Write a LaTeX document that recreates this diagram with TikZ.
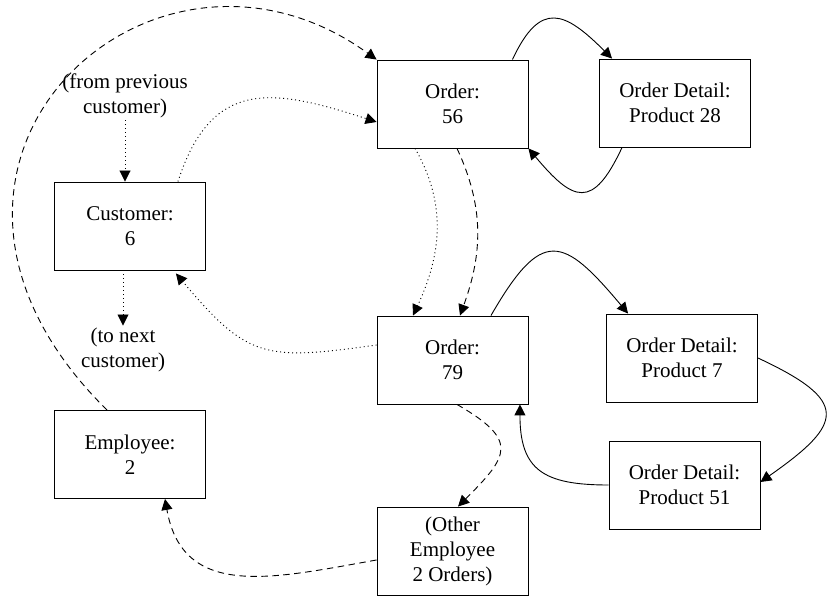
\documentclass[tikz,border=0pt]{standalone}
\usepackage{fontspec}
\setmainfont{Liberation Serif}
\usetikzlibrary{arrows.meta}

\begin{document}
\begin{tikzpicture}[x=1pt,y=1pt,line width=0.9pt,>={Triangle[length=11pt,width=11pt]},
  box/.style={draw,rectangle,minimum width=151pt,minimum height=88pt,inner sep=0pt,align=center,font=\fontsize{21}{25}\selectfont},
  lbl/.style={align=center,inner sep=2pt,font=\fontsize{21}{25}\selectfont},
  dotline/.style={dash pattern=on 1pt off 3pt},
  dashline/.style={dash pattern=on 6.5pt off 4.5pt}]
\useasboundingbox (0,0) rectangle (829,596);
\node[box]   (o56)   at (452.5,492) {Order:\\56};
\node[box]   (od28)  at (675,493)   {Order Detail:\\Product 28};
\node[box]   (cust)  at (130,370)   {Customer:\\6};
\node[box]   (o79)   at (452.5,236) {Order:\\79};
\node[box]   (od7)   at (682,238)   {Order Detail:\\Product 7};
\node[box]   (od51)  at (684.5,111) {Order Detail:\\Product 51};
\node[box]   (emp)   at (130,141.5) {Employee:\\2};
\node[box]   (other) at (452.5,45)  {(Other\\Employee\\2 Orders)};
\node[lbl]   (from)  at (125,500.5) {(from previous\\customer)};
\node[lbl]   (to)    at (123,246)   {(to next\\customer)};
\path[->]
  ([xshift=-16pt]o56.north east)  edge [out=65,in=135,looseness=1.7] ([xshift=13pt]od28.north west)
  ([xshift=23pt]od28.south west)  edge [out=-115,in=-50,looseness=1.9] (o56.south east)
  ([xshift=-28pt]cust.north east) edge [dotline,out=72,in=162,looseness=1.35] ([yshift=-18pt]o56.west)
  ([xshift=-37.5pt]o56.south)     edge [dotline,out=-60,in=65] ([xshift=-39.5pt]o79.north)
  ([xshift=4.5pt]o56.south)       edge [dashline,out=-65,in=70] ([xshift=7.5pt]o79.north)
  ([yshift=15pt]o79.west)         edge [dotline,out=188,in=-50,looseness=1.35] ([xshift=-30pt,yshift=-3pt]cust.south east)
  ([xshift=-37.5pt]o79.north east) edge [out=60,in=130,looseness=1.9] ([xshift=22pt]od7.north west)
  (od7.east)                      edge [out=-25,in=35,looseness=2.1] ([yshift=3pt]od51.east)
  (od51.west)                     edge [out=180,in=-90,looseness=1.4] ([xshift=-8.5pt]o79.south east)
  ([xshift=4.5pt]o79.south)       edge [dashline,out=-30,in=45,looseness=1.8] ([xshift=5.5pt]other.north)
  ([yshift=-9pt]other.west)       edge [dashline,out=190,in=-80,looseness=1.2] ([xshift=35pt]emp.south)
  (from.south)                    edge [dotline] (from.south |- cust.north)
  (to.north |- cust.south)        edge [dotline] (to.north);
\draw[->,dashline] ([xshift=-23pt]emp.north) .. controls (-140,430) and (150,700) .. (o56.north west);
\end{tikzpicture}
\end{document}
